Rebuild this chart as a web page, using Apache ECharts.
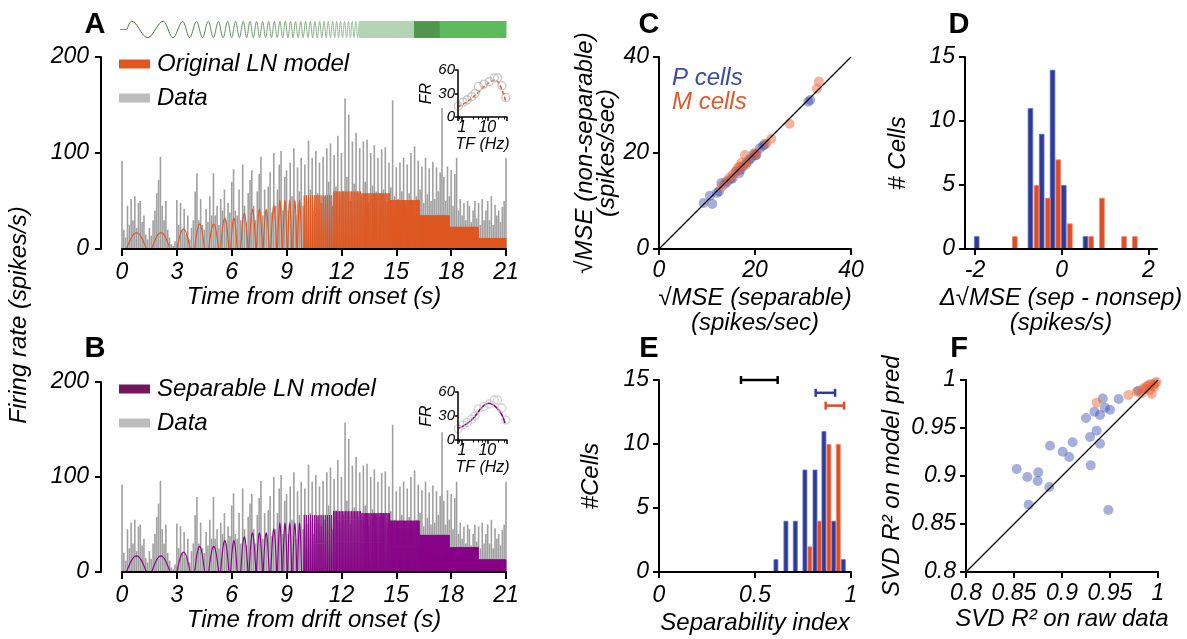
<!DOCTYPE html>
<html><head><meta charset="utf-8">
<script src="https://cdn.jsdelivr.net/npm/echarts@6/dist/echarts.min.js"></script>
<style>html,body{margin:0;padding:0;background:#fff}#c{width:1187px;height:639px}</style>
</head><body><div id="c"></div>
<script>
// ================= DATA =================
// Panel A/B recorded firing rate (spikes/s), sampled every DATA_DT seconds from t = 0
const DATA_DT = 0.1;
const firingData = [
92, 20, 12, 45, 25, 52, 30, 55, 22, 48,
50, 28, 35, 15, 10, 22, 14, 30, 40, 58,
72, 96, 45, 30, 50, 20, 12, 5, 3, 8,
51, 25, 48, 20, 42, 15, 35, 10, 22, 30,
60, 79, 30, 52, 25, 20, 42, 28, 55, 35,
79, 35, 45, 25, 52, 40, 62, 30, 48, 38,
70, 83, 40, 35, 62, 30, 88, 45, 28, 58,
72, 82, 45, 30, 60, 78, 96, 35, 62, 40,
65, 80, 38, 100, 45, 62, 88, 102, 40, 75,
82, 40, 90, 55, 105, 35, 85, 60, 95, 45,
88, 50, 113, 62, 95, 40, 102, 58, 90, 48,
96, 55, 105, 70, 110, 45, 98, 65, 118, 52,
100, 60, 157, 75, 140, 50, 112, 68, 121, 58,
105, 55, 112, 70, 114, 48, 100, 66, 108, 60,
95, 58, 104, 62, 106, 50, 90, 64, 155, 55,
85, 52, 90, 60, 95, 45, 88, 58, 100, 50,
107, 55, 92, 62, 86, 48, 95, 57, 84, 50,
91, 52, 85, 60, 80, 147, 75, 50, 86, 55,
82, 45, 78, 95, 40, 52, 35, 48, 30, 50,
45, 28, 40, 50, 32, 48, 25, 52, 30, 40,
50, 30, 55, 25, 46, 35, 40, 28, 44, 50,
95];

// Model response: each entry = response segment [start, end] (s), peak rate, number of cycles
const modelStart  = [0.24, 1.62, 3.0, 3.97, 4.74, 5.39, 5.94, 6.49, 6.95, 7.35, 7.72, 8.14, 8.51, 8.79, 9.06, 9.34, 9.6, 9.93, 11.54, 13.1, 14.67, 16.29, 17.92, 19.5];
const modelEnd    = [1.34, 2.63, 3.73, 4.52, 5.29, 5.85, 6.3, 6.89, 7.32, 7.68, 8.05, 8.46, 8.75, 9.03, 9.28, 9.56, 9.82, 11.54, 13.1, 14.67, 16.29, 17.92, 19.5, 21.0];
const modelCycles = [1, 1, 1, 1, 1, 1, 1, 1, 1, 1, 1, 1, 1, 1, 1, 1, 1, 14, 19, 25, 34, 46, 62, 80];
const modelPeakA  = [17, 17, 21, 26, 26, 32, 32, 37, 41, 41, 41, 45, 50, 50, 50, 50, 50, 56, 60, 58, 51, 35, 23, 11];
const modelPeakB  = [17, 17, 21, 27, 27, 33, 33, 37, 41, 41, 41, 45, 51, 51, 51, 51, 51, 60, 64, 62, 54, 39, 26, 13];

// Stimulus (drifting grating chirp): onset, crest times, then dense blocks
const stimOnset = 0.27;
const stimCrests = [0.53, 2.26, 3.32, 4.08, 4.72, 5.27, 5.78, 6.21, 6.63, 7.0, 7.36, 7.69, 8.02, 8.33, 8.64, 8.93, 9.22, 9.49, 9.77, 10.04, 10.3, 10.55, 10.81, 11.05, 11.28, 11.52, 11.74, 11.95, 12.17, 12.39, 12.59, 12.79, 12.99];
const stimBlockStart = [12.99, 16.0, 17.4];
const stimBlockEnd   = [16.0, 17.4, 21.0];
const stimBlockCycles = [120, 50, 160];

// Insets: tuning to temporal frequency
const tfData = [0.72, 1.13, 1.62, 2.43, 3.25, 4.4, 7.4, 11.9, 18.9, 25.6, 37.8, 54];
const frData = [14, 19, 22, 26, 30, 39, 42, 45, 50, 50, 40, 25];
const tfModelA = [0.68, 1.2, 2.4, 4.6, 7.6, 12, 19, 26, 38, 54];
const frModelA = [13, 17, 24, 32, 39, 44, 47, 45, 34.5, 19.6];
const tfModelB = [0.69, 1.2, 2.4, 4, 6.4, 11.3, 17.8, 32.8, 50];
const frModelB = [14.6, 18, 25, 33, 41.6, 46, 43.7, 35, 21];

// Panel C: sqrt MSE separable vs non-separable
const pSep    = [9.3, 11.1, 10.6, 12.1, 12.5, 13.0, 13.7, 14.2, 15.0, 15.3, 16.0, 16.7, 17.0, 17.5, 18.2, 18.8, 19.2, 19.8, 20.0, 20.3, 21.0, 21.7, 22.0, 31.1, 31.5];
const pNonsep = [9.6, 9.4, 11.1, 11.7, 12.0, 13.75, 13.5, 14.0, 14.6, 14.7, 16.2, 15.8, 16.5, 17.2, 17.9, 18.6, 18.9, 19.9, 19.5, 19.6, 21.0, 21.5, 21.8, 30.7, 31.05];
const mSep    = [13.0, 14.05, 14.7, 15.4, 16.1, 16.5, 16.8, 17.2, 17.9, 18.0, 18.5, 19.7, 20.3, 22.4, 23.4, 27.2, 32.9, 33.3];
const mNonsep = [13.0, 14.1, 14.9, 15.5, 16.1, 17.0, 17.2, 18.0, 19.6, 17.5, 18.2, 19.6, 20.0, 22.0, 23.0, 26.1, 33.4, 34.9];

// Panel D: histogram of delta sqrt MSE
const dBinP = [-1.96, -0.72, -0.46, -0.21, 0.05, 0.55];
const dCountP = [1, 11, 9, 14, 5, 1];
const dBinM = [-1.08, -0.58, -0.32, -0.08, 0.19, 0.68, 0.93, 1.44, 1.69];
const dCountM = [1, 5, 4, 7, 2, 1, 4, 1, 1];

// Panel E: separability index histogram + ranges
const eBinP = [0.609, 0.661, 0.71, 0.76, 0.8125, 0.859, 0.91, 0.96];
const eCountP = [1, 4, 4, 8, 8, 11, 4, 1];
const eBinM = [0.786, 0.835, 0.885, 0.934];
const eCountM = [2, 4, 10, 10];
const eRangeLo = [0.427, 0.816, 0.868];
const eRangeHi = [0.618, 0.917, 0.964];
const eRangeY  = [15, 14, 13];

// Panel F: SVD R^2 raw data vs model prediction
const fRawP   = [0.8528, 0.8639, 0.8753, 0.8747, 0.8653, 0.8875, 0.8868, 0.9007, 0.9076, 0.9111, 0.9299, 0.9292, 0.9361, 0.9396, 0.925, 0.9337, 0.9396, 0.9424, 0.9448, 0.95, 0.9483, 0.959, 0.9795];
const fModelP = [0.9073, 0.899, 0.9038, 0.8948, 0.8701, 0.9316, 0.8885, 0.9253, 0.9198, 0.9351, 0.9111, 0.9406, 0.9472, 0.9337, 0.9604, 0.967, 0.9635, 0.9806, 0.9712, 0.9691, 0.8646, 0.9802, 0.9889];
const fRawM   = [0.9361, 0.9691, 0.9778, 0.983, 0.9847, 0.9882, 0.9917, 0.9934, 0.9951, 0.9969, 0.9924, 0.9865, 0.9986, 0.99, 0.996];
const fModelM = [0.9764, 0.9844, 0.9878, 0.9861, 0.9913, 0.9931, 0.9896, 0.9854, 0.9948, 0.9965, 0.9958, 0.9903, 0.9979, 0.9945, 0.993];

// ================= STYLE =================
const FONT = "'Liberation Sans', Arial, Helvetica, sans-serif";
const ORANGE = '#e0561e', PURPLE = '#860086', GRAY = '#a0a0a0';
const BLUE_BAR = '#2d3b98', ORANGE_BAR = '#e04a25';
const BLUE_PT = 'rgba(62,80,180,0.58)', ORANGE_PT = 'rgba(234,98,50,0.6)';
const stimBlockColor = ['#b4d3b4', '#4f964f', '#5dba5d'];
const rangeColor = ['#000', '#2d3b98', '#e04a25'];
const TITLE_FS = 24;

function hexMix(a, b, f) {
  const pa = [1,3,5].map(i => parseInt(a.substr(i,2),16)), pb = [1,3,5].map(i => parseInt(b.substr(i,2),16));
  return 'rgb(' + pa.map((v,i) => Math.round(v + (pb[i]-v)*f)).join(',') + ')';
}

function axis(o) {
  const lw = o.lw || 2;
  const a = {
    type: o.type || 'value', gridIndex: o.grid, min: o.min, max: o.max,
    position: o.pos, offset: o.offset || 0, show: o.show !== false, z: 5,
    axisLine: {show: true, onZero: false, lineStyle: {color: '#000', width: lw}},
    axisTick: {show: true, inside: false, length: o.tick || 6, lineStyle: {color: '#000', width: lw}},
    axisLabel: {show: true, margin: o.margin || 10, fontFamily: FONT, fontStyle: 'italic', fontSize: o.fs || 23, color: '#000'},
    splitLine: {show: false}, minorSplitLine: {show: false}
  };
  if (o.interval !== undefined) a.interval = o.interval;
  if (o.custom) { a.axisTick.customValues = o.custom; a.axisLabel.customValues = o.custom; }
  if (o.hideEnds) { a.axisLabel.showMinLabel = false; a.axisLabel.showMaxLabel = false; }
  if (o.minor) a.minorTick = {show: true, splitNumber: 5, length: 2.5, lineStyle: {color: '#000', width: 1}};
  if (o.name) {
    a.name = o.name; a.nameLocation = 'middle'; a.nameGap = o.gap; a.nameRotate = o.rot || 0;
    a.nameTextStyle = {fontFamily: FONT, fontStyle: 'italic', fontSize: o.nfs || TITLE_FS, color: '#000', lineHeight: o.lh || 25};
  }
  return a;
}

function modelRender(color) {
  return function (params, api) {
    const t0 = api.value(0), t1 = api.value(1), pk = api.value(2), n = api.value(3);
    const P = (t1 - t0) / n, duty = n === 1 ? 1 : 0.62, ns = n === 1 ? 18 : 6;
    const pts = [];
    for (let k = 0; k < n; k++) {
      const s = t0 + k * P;
      for (let j = 0; j <= ns; j++) { const u = j / ns; pts.push(api.coord([s + u * duty * P, pk * Math.sin(Math.PI * u)])); }
      if (duty < 1) pts.push(api.coord([s + P, 0]));
    }
    if (n === 1) {
      return {type: 'polyline', shape: {points: pts}, style: {stroke: color, lineWidth: 1.1, fill: 'none'}};
    }
    return {type: 'polygon', shape: {points: pts}, style: {stroke: color, lineWidth: 0.8, fill: color}};
  };
}

function stimRender(params, api) {
  const tA = api.value(0), tB = api.value(1), p0 = api.value(2), p1 = api.value(3), ci = api.value(4);
  const cycles = (p1 - p0) / (2 * Math.PI);
  const ns = Math.max(1, ci >= 0 ? Math.round(cycles * 4) : 24);
  const pts = [];
  for (let j = 0; j <= ns; j++) { const u = j / ns; pts.push(api.coord([tA + u * (tB - tA), Math.cos(p0 + u * (p1 - p0))])); }
  const color = ci >= 0 ? stimBlockColor[ci] : hexMix('#2c662c', '#9cc09c', Math.min(1, Math.max(0, tA / 13)));
  return {type: 'polyline', shape: {points: pts}, style: {stroke: color, lineWidth: 1, fill: 'none'}};
}

function rangeRender(params, api) {
  const a = api.coord([api.value(0), api.value(2)]), b = api.coord([api.value(1), api.value(2)]);
  const c = rangeColor[params.dataIndex], st = {stroke: c, lineWidth: 2.5};
  return {type: 'group', children: [
    {type: 'line', shape: {x1: a[0], y1: a[1], x2: b[0], y2: b[1]}, style: st},
    {type: 'line', shape: {x1: a[0], y1: a[1] - 4, x2: a[0], y2: a[1] + 4}, style: st},
    {type: 'line', shape: {x1: b[0], y1: b[1] - 4, x2: b[0], y2: b[1] + 4}, style: st}
  ]};
}

// ================= BUILD =================
const firingSeriesData = firingData.map((v, i) => [i * DATA_DT, v]);
const modelA = modelStart.map((s, i) => [s, modelEnd[i], modelPeakA[i], modelCycles[i]]);
const modelB = modelStart.map((s, i) => [s, modelEnd[i], modelPeakB[i], modelCycles[i]]);
const stimItems = [[-0.1, stimOnset, -Math.PI / 2, -Math.PI / 2, -1], [stimOnset, stimCrests[0], -Math.PI / 2, 0, -1]];
for (let i = 0; i < stimCrests.length - 1; i++) stimItems.push([stimCrests[i], stimCrests[i + 1], 0, 2 * Math.PI, -1]);
for (let j = 0; j < stimBlockStart.length; j++) stimItems.push([stimBlockStart[j], stimBlockEnd[j], 0, 2 * Math.PI * stimBlockCycles[j], j]);
const zip = (a, b) => a.map((v, i) => [v, b[i]]);

const grids = [
  {left: 122, top: 57, width: 384, height: 192},   // 0 A
  {left: 122, top: 382, width: 384, height: 190},  // 1 B
  {left: 659, top: 57, width: 192, height: 192},   // 2 C
  {left: 965, top: 57, width: 192, height: 192},   // 3 D
  {left: 659, top: 380, width: 192, height: 192},  // 4 E
  {left: 966, top: 380, width: 192, height: 192},  // 5 F
  {left: 458, top: 70, width: 49, height: 47},     // 6 inset A
  {left: 458, top: 392, width: 49, height: 48},    // 7 inset B
  {left: 122, top: 21, width: 384, height: 17}     // 8 stimulus
].map(g => Object.assign({outerBoundsMode: 'none', containLabel: false}, g));

const xAxes = [
  axis({grid: 0, min: 0, max: 21, interval: 3, tick: 7, margin: 12, name: 'Time from drift onset (s)', gap: 36}),
  axis({grid: 1, min: 0, max: 21, interval: 3, tick: 7, margin: 12, name: 'Time from drift onset (s)', gap: 36}),
  axis({grid: 2, min: 0, max: 40, interval: 20, margin: 10, name: '\u221aMSE (separable)\n(spikes/sec)', gap: 37}),
  axis({grid: 3, min: -2.23, max: 2.2, custom: [-2, 0, 2], margin: 10, name: '\u0394\u221aMSE (sep - nonsep)\n(spikes/s)', gap: 37}),
  axis({grid: 4, min: 0, max: 1, interval: 0.5, margin: 12, name: 'Separability index', gap: 39}),
  axis({grid: 5, min: 0.8, max: 1, interval: 0.05, margin: 10, name: 'SVD R\u00b2 on raw data', gap: 35}),
  axis({grid: 6, type: 'log', min: 0.7, max: 60, lw: 1.5, tick: 4, fs: 16, margin: 3, hideEnds: true, minor: true, name: 'TF (Hz)', gap: 19, nfs: 16, lh: 16}),
  axis({grid: 7, type: 'log', min: 0.7, max: 60, lw: 1.5, tick: 4, fs: 16, margin: 3, hideEnds: true, minor: true, name: 'TF (Hz)', gap: 19, nfs: 16, lh: 16}),
  {type: 'value', gridIndex: 8, min: 0, max: 21, show: false}
];
const yAxes = [
  axis({grid: 0, min: 0, max: 200, interval: 100, offset: 21, margin: 12}),
  axis({grid: 1, min: 0, max: 200, interval: 100, offset: 21, margin: 12}),
  axis({grid: 2, min: 0, max: 40, interval: 20, margin: 10, name: '\u221aMSE (non-separable)\n(spikes/sec)', gap: 28, rot: 90, lh: 22}),
  axis({grid: 3, min: 0, max: 15, interval: 5, margin: 10, name: '# Cells', gap: 54, rot: 90}),
  axis({grid: 4, min: 0, max: 15, interval: 5, margin: 10, name: '#Cells', gap: 55, rot: 90}),
  axis({grid: 5, min: 0.8, max: 1, interval: 0.05, margin: 10, name: 'SVD R\u00b2 on model pred', gap: 61, rot: 90}),
  axis({grid: 6, min: 0, max: 60, interval: 30, lw: 1.5, tick: 3, fs: 15, margin: 3, name: 'FR', gap: 19, rot: 90, nfs: 16, lh: 16}),
  axis({grid: 7, min: 0, max: 60, interval: 30, lw: 1.5, tick: 3, fs: 15, margin: 3, name: 'FR', gap: 19, rot: 90, nfs: 16, lh: 16}),
  {type: 'value', gridIndex: 8, min: -1.05, max: 1.05, show: false}
];

const legTxt = {fontFamily: FONT, fontStyle: 'italic', fontSize: 24, color: '#000', lineHeight: 24, padding: [0, 0, 0, 2]};
const legends = [
  {orient: 'vertical', left: 114, top: 47, itemWidth: 31, itemHeight: 9, itemGap: 10, selectedMode: false, textStyle: legTxt,
   data: [{name: 'Original LN model', icon: 'rect', itemStyle: {color: ORANGE}}, {name: 'Data', icon: 'rect', itemStyle: {color: '#bdbdbd'}}]},
  {orient: 'vertical', left: 114, top: 372, itemWidth: 31, itemHeight: 9, itemGap: 10, selectedMode: false, textStyle: legTxt,
   data: [{name: 'Separable LN model', icon: 'rect', itemStyle: {color: '#731660'}}, {name: 'Data', icon: 'rect', itemStyle: {color: '#bdbdbd'}}]},
  {orient: 'vertical', left: 662, top: 61, itemWidth: 0, itemHeight: 0, itemGap: 0, selectedMode: false,
   textStyle: {fontFamily: FONT, fontStyle: 'italic', fontSize: 24, lineHeight: 24},
   data: [{name: 'P cells', icon: 'rect', textStyle: {color: '#3b49a8'}}, {name: 'M cells', icon: 'rect', textStyle: {color: '#e0592e'}}]}
];

const letter = (t, x, y) => ({type: 'text', x: x, y: y, style: {text: t, fontFamily: FONT, fontWeight: 'bold', fontSize: 29, fill: '#000', align: 'center', verticalAlign: 'middle'}});
const graphic = [
  letter('A', 95, 25), letter('B', 95, 349), letter('C', 649, 25), letter('D', 959, 25), letter('E', 649, 349), letter('F', 959, 349),
  {type: 'text', x: 19, y: 315, rotation: Math.PI / 2,
   style: {text: 'Firing rate (spikes/s)', fontFamily: FONT, fontStyle: 'italic', fontSize: 24, fill: '#000', align: 'center', verticalAlign: 'middle'}}
];

const series = [
  // Panel A
  {type: 'bar', name: 'Data', xAxisIndex: 0, yAxisIndex: 0, data: firingSeriesData, barWidth: 1.6, z: 1, itemStyle: {color: GRAY}, silent: true},
  {type: 'custom', name: 'Original LN model', xAxisIndex: 0, yAxisIndex: 0, data: modelA, encode: {x: [0, 1], y: 2}, renderItem: modelRender(ORANGE), z: 4, silent: true, itemStyle: {color: ORANGE}},
  // Panel B
  {type: 'bar', name: 'Data', xAxisIndex: 1, yAxisIndex: 1, data: firingSeriesData, barWidth: 1.6, z: 1, itemStyle: {color: GRAY}, silent: true},
  {type: 'custom', name: 'Separable LN model', xAxisIndex: 1, yAxisIndex: 1, data: modelB, encode: {x: [0, 1], y: 2}, renderItem: modelRender(PURPLE), z: 4, silent: true, itemStyle: {color: PURPLE}},
  // Stimulus
  {type: 'custom', name: 'stimulus', xAxisIndex: 8, yAxisIndex: 8, data: stimItems, encode: {x: [0, 1], y: 2}, renderItem: stimRender, silent: true},
  // Insets
  {type: 'line', name: 'insetModelA', xAxisIndex: 6, yAxisIndex: 6, data: zip(tfModelA, frModelA), smooth: true, symbol: 'none', z: 4, lineStyle: {color: ORANGE, width: 1.6, type: [4, 2]}},
  {type: 'scatter', name: 'insetDataA', xAxisIndex: 6, yAxisIndex: 6, data: zip(tfData, frData), symbolSize: 8, z: 4, itemStyle: {color: 'rgba(255,255,255,0)', borderColor: '#b8b8b8', borderWidth: 1.3}},
  {type: 'line', name: 'insetModelB', xAxisIndex: 7, yAxisIndex: 7, data: zip(tfModelB, frModelB), smooth: true, symbol: 'none', z: 4, lineStyle: {color: PURPLE, width: 1.6}},
  {type: 'scatter', name: 'insetDataB', xAxisIndex: 7, yAxisIndex: 7, data: zip(tfData, frData), symbolSize: 8, z: 4, itemStyle: {color: 'rgba(255,255,255,0)', borderColor: '#c8c8c8', borderWidth: 1.3}},
  // Panel C
  {type: 'scatter', name: 'P cells', xAxisIndex: 2, yAxisIndex: 2, data: zip(pSep, pNonsep), symbolSize: 10, itemStyle: {color: BLUE_PT}},
  {type: 'scatter', name: 'M cells', xAxisIndex: 2, yAxisIndex: 2, data: zip(mSep, mNonsep), symbolSize: 10, itemStyle: {color: ORANGE_PT}},
  {type: 'line', name: 'unityC', xAxisIndex: 2, yAxisIndex: 2, data: [[0, 0], [40, 40]], symbol: 'none', z: 4, lineStyle: {color: '#000', width: 1.2}, silent: true},
  // Panel D
  {type: 'bar', name: 'P hist D', xAxisIndex: 3, yAxisIndex: 3, data: zip(dBinP, dCountP), barWidth: 5.5, barGap: '-100%', itemStyle: {color: BLUE_BAR, borderColor: '#6472c4', borderWidth: 0.8}},
  {type: 'bar', name: 'M hist D', xAxisIndex: 3, yAxisIndex: 3, data: zip(dBinM, dCountM), barWidth: 5.5, barGap: '-100%', itemStyle: {color: ORANGE_BAR, borderColor: '#f08868', borderWidth: 0.8}},
  // Panel E
  {type: 'bar', name: 'P hist E', xAxisIndex: 4, yAxisIndex: 4, data: zip(eBinP, eCountP), barWidth: 4.8, barGap: '-100%', itemStyle: {color: BLUE_BAR, borderColor: '#6472c4', borderWidth: 0.8}},
  {type: 'bar', name: 'M hist E', xAxisIndex: 4, yAxisIndex: 4, data: zip(eBinM, eCountM), barWidth: 4.8, barGap: '-100%', itemStyle: {color: ORANGE_BAR, borderColor: '#f08868', borderWidth: 0.8}},
  {type: 'custom', name: 'ranges E', xAxisIndex: 4, yAxisIndex: 4, data: eRangeLo.map((v, i) => [v, eRangeHi[i], eRangeY[i]]), encode: {x: [0, 1], y: 2}, renderItem: rangeRender, silent: true},
  // Panel F
  {type: 'scatter', name: 'P cells', xAxisIndex: 5, yAxisIndex: 5, data: zip(fRawP, fModelP), symbolSize: 10, itemStyle: {color: BLUE_PT}},
  {type: 'scatter', name: 'M cells', xAxisIndex: 5, yAxisIndex: 5, data: zip(fRawM, fModelM), symbolSize: 10, itemStyle: {color: ORANGE_PT}},
  {type: 'line', name: 'unityF', xAxisIndex: 5, yAxisIndex: 5, data: [[0.8, 0.8], [1, 1]], symbol: 'none', z: 4, lineStyle: {color: '#000', width: 1.2}, silent: true}
];

const chart = echarts.init(document.getElementById('c'), null, {renderer: 'canvas'});
chart.setOption({
  animation: false, backgroundColor: '#fff', textStyle: {fontFamily: FONT},
  grid: grids, xAxis: xAxes, yAxis: yAxes, legend: legends, graphic: graphic, series: series
});
</script></body></html>
